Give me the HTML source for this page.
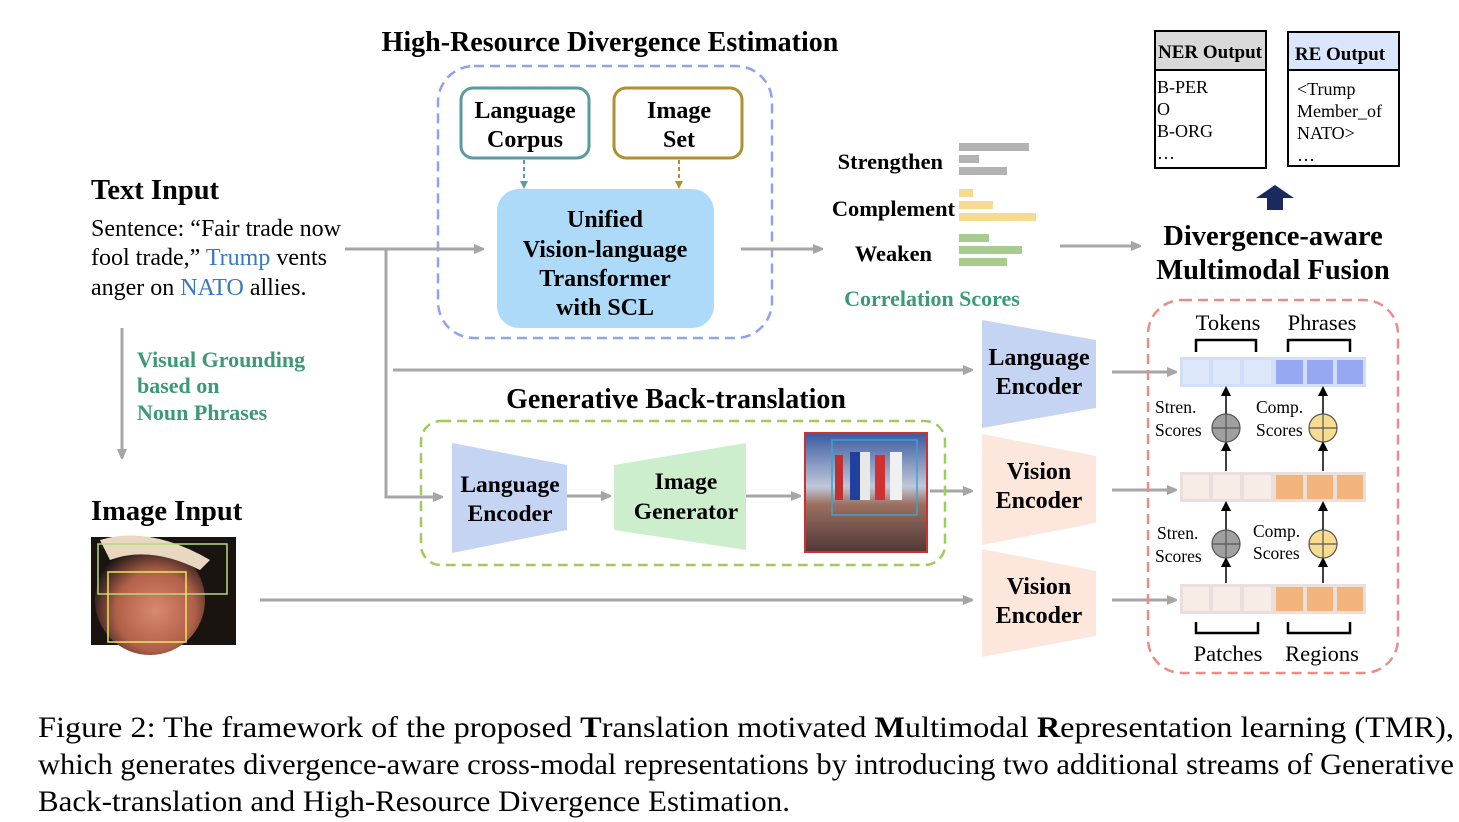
<!DOCTYPE html>
<html><head><meta charset="utf-8"><style>
html,body{margin:0;padding:0;background:#fff}
svg{display:block}
text{font-family:"Liberation Serif",serif}
.b{font-weight:bold}
</style></head><body>
<svg width="1459" height="822" viewBox="0 0 1459 822" xmlns="http://www.w3.org/2000/svg">
<defs>
<marker id="ag" markerWidth="10" markerHeight="10" refX="9" refY="5" orient="auto" markerUnits="userSpaceOnUse"><path d="M0,0 L12,5 L0,10 z" fill="#a6a6a6"/></marker>
<marker id="ak" markerWidth="10" markerHeight="10" refX="8" refY="5" orient="auto" markerUnits="userSpaceOnUse"><path d="M0,0 L10,5 L0,10 z" fill="#000"/></marker>
<marker id="at" markerWidth="8" markerHeight="8" refX="7" refY="4" orient="auto" markerUnits="userSpaceOnUse"><path d="M0,0 L8,4 L0,8 z" fill="#5a9aa0"/></marker>
<marker id="ay" markerWidth="8" markerHeight="8" refX="7" refY="4" orient="auto" markerUnits="userSpaceOnUse"><path d="M0,0 L8,4 L0,8 z" fill="#b09030"/></marker>
</defs>

<!-- High resource -->
<text x="610" y="51" class="b" font-size="28" text-anchor="middle">High-Resource Divergence Estimation</text>
<rect x="438" y="66" width="334" height="272" rx="36" fill="none" stroke="#8fa2ee" stroke-width="2.5" stroke-dasharray="10,6"/>
<rect x="461" y="88" width="128" height="70" rx="12" fill="#fff" stroke="#5a9aa0" stroke-width="3"/>
<text x="525" y="118" class="b" font-size="24" text-anchor="middle">Language</text>
<text x="525" y="147" class="b" font-size="24" text-anchor="middle">Corpus</text>
<rect x="614" y="88" width="128" height="70" rx="12" fill="#fff" stroke="#b09030" stroke-width="3"/>
<text x="679" y="118" class="b" font-size="24" text-anchor="middle">Image</text>
<text x="679" y="147" class="b" font-size="24" text-anchor="middle">Set</text>
<line x1="524" y1="160" x2="524" y2="188" stroke="#5a9aa0" stroke-width="2" stroke-dasharray="4,3" marker-end="url(#at)"/>
<line x1="679" y1="160" x2="679" y2="188" stroke="#b09030" stroke-width="2" stroke-dasharray="4,3" marker-end="url(#ay)"/>
<rect x="497" y="189" width="217" height="139" rx="22" fill="#acdaf8"/>
<text x="605" y="227" class="b" font-size="24" text-anchor="middle">Unified</text>
<text x="605" y="257" class="b" font-size="24" text-anchor="middle">Vision-language</text>
<text x="605" y="286" class="b" font-size="24" text-anchor="middle">Transformer</text>
<text x="605" y="315" class="b" font-size="24" text-anchor="middle">with SCL</text>

<!-- Text input -->
<text x="91" y="199" class="b" font-size="28.5">Text Input</text>
<text x="91" y="236" font-size="24">Sentence: “Fair trade now</text>
<text x="91" y="265" font-size="24">fool trade,” <tspan fill="#3a78c0">Trump</tspan> vents</text>
<text x="91" y="295" font-size="24">anger on <tspan fill="#3a78c0">NATO</tspan> allies.</text>

<g stroke="#a6a6a6" stroke-width="3" fill="none">
<line x1="345" y1="249" x2="483" y2="249" marker-end="url(#ag)"/>
<polyline points="386,249 386,497 442,497" marker-end="url(#ag)"/>
<line x1="393" y1="370" x2="972" y2="370" marker-end="url(#ag)"/>
<line x1="741" y1="249" x2="822" y2="249" marker-end="url(#ag)"/>
<line x1="1060" y1="246" x2="1140" y2="246" marker-end="url(#ag)"/>
<line x1="122" y1="328" x2="122" y2="458" marker-end="url(#ag)"/>
<line x1="260" y1="600" x2="972" y2="600" marker-end="url(#ag)"/>
<line x1="567" y1="496" x2="610" y2="496" marker-end="url(#ag)"/>
<line x1="746" y1="496" x2="800" y2="496" marker-end="url(#ag)"/>
<line x1="930" y1="491" x2="972" y2="491" marker-end="url(#ag)"/>
<line x1="1112" y1="372" x2="1176" y2="372" marker-end="url(#ag)"/>
<line x1="1112" y1="490" x2="1176" y2="490" marker-end="url(#ag)"/>
<line x1="1112" y1="600" x2="1176" y2="600" marker-end="url(#ag)"/>
</g>

<!-- correlation -->
<text x="943" y="169" class="b" font-size="22.4" text-anchor="end">Strengthen</text>
<text x="955" y="216" class="b" font-size="22.4" text-anchor="end">Complement</text>
<text x="932" y="261" class="b" font-size="22.4" text-anchor="end">Weaken</text>
<g fill="#b3b3b3"><rect x="959" y="143" width="70" height="8"/><rect x="959" y="155" width="20" height="8"/><rect x="959" y="167" width="48" height="8"/></g>
<g fill="#f8d990"><rect x="959" y="189" width="14" height="8"/><rect x="959" y="201" width="34" height="8"/><rect x="959" y="213" width="77" height="8"/></g>
<g fill="#a8cc90"><rect x="959" y="234" width="30" height="8"/><rect x="959" y="246" width="63" height="8"/><rect x="959" y="258" width="48" height="8"/></g>
<text x="932" y="306" class="b" font-size="22" fill="#3d9a78" text-anchor="middle">Correlation Scores</text>

<!-- outputs -->
<rect x="1155" y="31" width="111" height="137" fill="#fff" stroke="#000" stroke-width="2"/>
<rect x="1155" y="31" width="111" height="39" fill="#d9d9d9" stroke="#000" stroke-width="2"/>
<text x="1210" y="58" class="b" font-size="19" text-anchor="middle">NER Output</text>
<text x="1157" y="93" font-size="18">B-PER</text>
<text x="1157" y="115" font-size="18">O</text>
<text x="1157" y="137" font-size="18">B-ORG</text>
<text x="1157" y="159" font-size="18">…</text>
<rect x="1288" y="32" width="111" height="134" fill="#fff" stroke="#000" stroke-width="2"/>
<rect x="1288" y="32" width="111" height="38" fill="#dae6fb" stroke="#000" stroke-width="2"/>
<text x="1340" y="60" class="b" font-size="19" text-anchor="middle">RE Output</text>
<text x="1297" y="95" font-size="18">&lt;Trump</text>
<text x="1297" y="117" font-size="18">Member_of</text>
<text x="1297" y="139" font-size="18">NATO&gt;</text>
<text x="1297" y="161" font-size="18">…</text>
<path d="M1275,185 L1294,198 L1283,198 L1283,210 L1267,210 L1267,198 L1256,198 z" fill="#1a2a5e"/>
<text x="1273" y="245" class="b" font-size="28.5" text-anchor="middle">Divergence-aware</text>
<text x="1273" y="279" class="b" font-size="28.5" text-anchor="middle">Multimodal Fusion</text>

<!-- visual grounding -->
<text x="137" y="367" class="b" font-size="22" fill="#3d9a78">Visual Grounding</text>
<text x="137" y="393" class="b" font-size="22" fill="#3d9a78">based on</text>
<text x="137" y="420" class="b" font-size="22" fill="#3d9a78">Noun Phrases</text>

<!-- image input -->
<text x="91" y="520" class="b" font-size="28.5">Image Input</text>
<defs>
<radialGradient id="face" cx="0.55" cy="0.6" r="0.6"><stop offset="0" stop-color="#d88a70"/><stop offset="0.6" stop-color="#b06048"/><stop offset="1" stop-color="#201818"/></radialGradient>
<linearGradient id="crowd" x1="0" y1="0" x2="0" y2="1"><stop offset="0" stop-color="#3a5aa0"/><stop offset="0.45" stop-color="#c0c8d8"/><stop offset="0.6" stop-color="#9a7060"/><stop offset="1" stop-color="#503838"/></linearGradient>
</defs>
<rect x="91" y="537" width="145" height="108" fill="#1a1410"/>
<ellipse cx="150" cy="600" rx="55" ry="55" fill="url(#face)"/>
<path d="M100,540 Q150,525 210,560 L200,570 Q150,545 110,560z" fill="#e8d8c0"/>
<rect x="98" y="544" width="129" height="50" fill="none" stroke="#b8d880" stroke-width="1.5"/>
<rect x="108" y="572" width="78" height="70" fill="none" stroke="#e8e860" stroke-width="1.5"/>

<!-- generative -->
<text x="676" y="408" class="b" font-size="28" text-anchor="middle">Generative Back-translation</text>
<rect x="421" y="421" width="524" height="144" rx="20" fill="none" stroke="#9ccc5a" stroke-width="2.5" stroke-dasharray="10,6"/>
<polygon points="452,443 567,465 567,530 452,553" fill="#c6d4f4"/>
<text x="510" y="492" class="b" font-size="23.5" text-anchor="middle">Language</text>
<text x="510" y="521" class="b" font-size="23.5" text-anchor="middle">Encoder</text>
<polygon points="614,465 746,443 746,550 614,530" fill="#cdeecd"/>
<text x="686" y="489" class="b" font-size="23.5" text-anchor="middle">Image</text>
<text x="686" y="519" class="b" font-size="23.5" text-anchor="middle">Generator</text>
<rect x="805" y="433" width="122" height="119" fill="url(#crowd)"/>
<g><rect x="835" y="455" width="8" height="45" fill="#c03030"/><rect x="850" y="452" width="10" height="48" fill="#2040a0"/><rect x="860" y="452" width="10" height="48" fill="#e8e8e8"/><rect x="875" y="455" width="10" height="45" fill="#d03030"/><rect x="890" y="452" width="12" height="48" fill="#f0f0f0"/></g>
<rect x="805" y="433" width="122" height="119" fill="none" stroke="#d03030" stroke-width="2"/>
<rect x="832" y="440" width="85" height="75" fill="none" stroke="#40a0d0" stroke-width="1.5"/>

<!-- right encoders -->
<polygon points="982,320 1096,340 1096,408 982,428" fill="#c6d4f4"/>
<text x="1039" y="365" class="b" font-size="24" text-anchor="middle">Language</text>
<text x="1039" y="394" class="b" font-size="24" text-anchor="middle">Encoder</text>
<polygon points="982,434 1096,456 1096,523 982,545" fill="#fde7dc"/>
<text x="1039" y="479" class="b" font-size="24" text-anchor="middle">Vision</text>
<text x="1039" y="508" class="b" font-size="24" text-anchor="middle">Encoder</text>
<polygon points="982,549 1096,571 1096,636 982,657" fill="#fde7dc"/>
<text x="1039" y="594" class="b" font-size="24" text-anchor="middle">Vision</text>
<text x="1039" y="623" class="b" font-size="24" text-anchor="middle">Encoder</text>

<!-- fusion box -->
<rect x="1148" y="300" width="250" height="373" rx="34" fill="none" stroke="#ec8c84" stroke-width="2.5" stroke-dasharray="10,6"/>
<text x="1228" y="330" font-size="22.5" text-anchor="middle">Tokens</text>
<text x="1322" y="330" font-size="22.5" text-anchor="middle">Phrases</text>
<path d="M1196,352 V340 H1256 V352 M1288,352 V340 H1350 V352" fill="none" stroke="#000" stroke-width="2.5"/>
<rect x="1180" y="357" width="186" height="30" fill="#d0def8"/>
<g fill="#dde8fa"><rect x="1183" y="360" width="26" height="24"/><rect x="1213" y="360" width="27" height="24"/><rect x="1244" y="360" width="27" height="24"/></g>
<g fill="#96a8f2"><rect x="1276" y="360" width="27" height="24"/><rect x="1307" y="360" width="26" height="24"/><rect x="1337" y="360" width="26" height="24"/></g>
<rect x="1180" y="472" width="186" height="30" fill="#eadfdc"/>
<g fill="#f8ede6"><rect x="1183" y="475" width="26" height="24"/><rect x="1213" y="475" width="27" height="24"/><rect x="1244" y="475" width="27" height="24"/></g>
<g fill="#f2b47a"><rect x="1276" y="475" width="27" height="24"/><rect x="1307" y="475" width="26" height="24"/><rect x="1337" y="475" width="26" height="24"/></g>
<rect x="1180" y="584" width="186" height="30" fill="#eadfdc"/>
<g fill="#f8ede6"><rect x="1183" y="587" width="26" height="24"/><rect x="1213" y="587" width="27" height="24"/><rect x="1244" y="587" width="27" height="24"/></g>
<g fill="#f2b47a"><rect x="1276" y="587" width="27" height="24"/><rect x="1307" y="587" width="26" height="24"/><rect x="1337" y="587" width="26" height="24"/></g>
<g stroke="#000" stroke-width="1.5" marker-end="url(#ak)">
<line x1="1226" y1="414" x2="1226" y2="388"/><line x1="1226" y1="471" x2="1226" y2="443"/>
<line x1="1323" y1="414" x2="1323" y2="388"/><line x1="1323" y1="471" x2="1323" y2="443"/>
<line x1="1226" y1="530" x2="1226" y2="503"/><line x1="1226" y1="583" x2="1226" y2="559"/>
<line x1="1323" y1="530" x2="1323" y2="503"/><line x1="1323" y1="583" x2="1323" y2="559"/>
</g>
<g stroke="#555" stroke-width="1.2">
<circle cx="1226" cy="428" r="14" fill="#a0a0a0"/><path d="M1212,428 H1240 M1226,414 V442"/>
<circle cx="1323" cy="428" r="14" fill="#f8dc90"/><path d="M1309,428 H1337 M1323,414 V442"/>
<circle cx="1226" cy="544" r="14" fill="#a0a0a0"/><path d="M1212,544 H1240 M1226,530 V558"/>
<circle cx="1323" cy="544" r="14" fill="#f8dc90"/><path d="M1309,544 H1337 M1323,530 V558"/>
</g>
<g font-size="17.5">
<text x="1155" y="413">Stren.</text><text x="1155" y="436">Scores</text>
<text x="1256" y="413">Comp.</text><text x="1256" y="436">Scores</text>
<text x="1157" y="539">Stren.</text><text x="1155" y="562">Scores</text>
<text x="1253" y="537">Comp.</text><text x="1253" y="559">Scores</text>
</g>
<path d="M1196,622 V633 H1258 V622 M1288,622 V633 H1350 V622" fill="none" stroke="#000" stroke-width="2.5"/>
<text x="1228" y="661" font-size="22.5" text-anchor="middle">Patches</text>
<text x="1322" y="661" font-size="22.5" text-anchor="middle">Regions</text>

<!-- caption -->
<text x="38" y="737" font-size="30" textLength="1416" lengthAdjust="spacingAndGlyphs">Figure 2: The framework of the proposed <tspan font-weight="bold">T</tspan>ranslation motivated <tspan font-weight="bold">M</tspan>ultimodal <tspan font-weight="bold">R</tspan>epresentation learning (TMR),</text>
<text x="38" y="774" font-size="30" textLength="1416" lengthAdjust="spacingAndGlyphs">which generates divergence-aware cross-modal representations by introducing two additional streams of Generative</text>
<text x="38" y="811" font-size="30" textLength="752" lengthAdjust="spacingAndGlyphs">Back-translation and High-Resource Divergence Estimation.</text>
</svg>
</body></html>
